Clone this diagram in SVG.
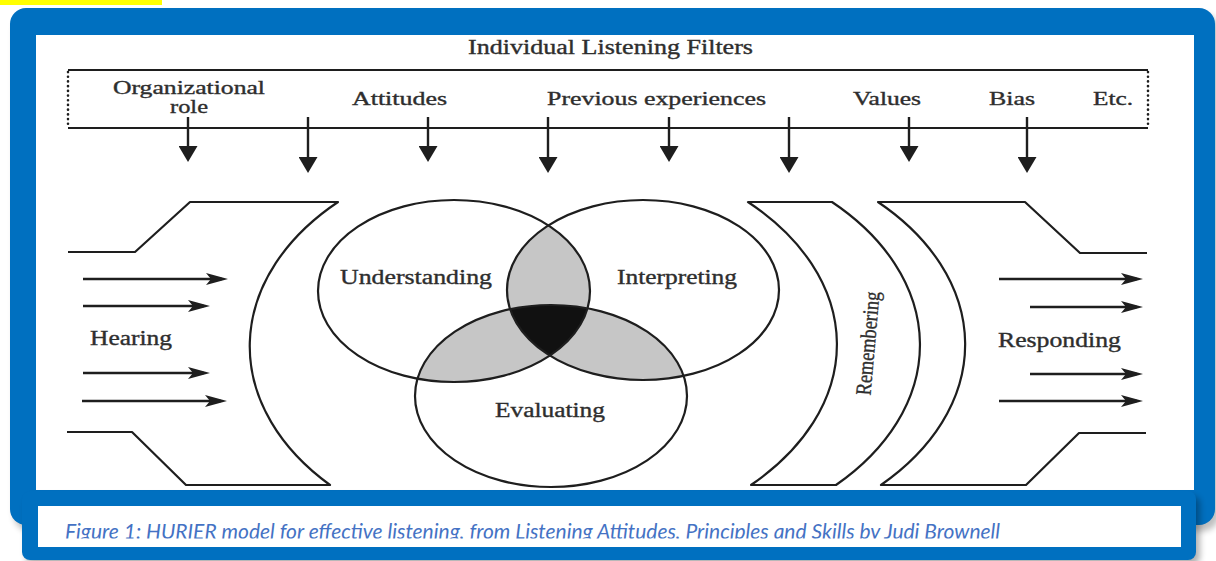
<svg xmlns="http://www.w3.org/2000/svg" width="1216" height="561" viewBox="0 0 1216 561">
<defs>
<style>
.ln{fill:none;stroke:#1e1e1e;stroke-width:2.2;stroke-linejoin:round}
.ar{fill:none;stroke:#1e1e1e;stroke-width:2.4}
.dot{fill:none;stroke:#1e1e1e;stroke-width:2.6;stroke-linecap:round;stroke-dasharray:0.1 4.6}
.lb{font-family:"Liberation Serif","Times New Roman",serif;fill:#2e2e2e;stroke:#2e2e2e;stroke-width:0.35}
.sm{font-size:18px}
.md{font-size:20px}
.cap{font-family:Lato,"Liberation Sans",sans-serif;font-style:italic;font-size:21px;fill:#4472c4}
</style>
<marker id="hv" markerUnits="userSpaceOnUse" viewBox="0 0 16 19" markerWidth="16" markerHeight="19" refX="10" refY="9.5" orient="auto">
<path d="M0,0 L16,9.5 L0,19 Z" fill="#1e1e1e"/>
</marker>
<marker id="hh" markerUnits="userSpaceOnUse" viewBox="0 0 22 12" markerWidth="22" markerHeight="12" refX="16" refY="6" orient="auto">
<path d="M0,0 L22,6 L0,12 L5,6 Z" fill="#1e1e1e"/>
</marker>
<clipPath id="cU"><ellipse cx="454" cy="291" rx="136" ry="91"/></clipPath>
<clipPath id="cI"><ellipse cx="643" cy="290" rx="136" ry="90"/></clipPath>
<clipPath id="cE"><ellipse cx="551" cy="396" rx="136" ry="91"/></clipPath>
<clipPath id="cCap"><rect x="38" y="506" width="1143" height="32.5"/></clipPath>
<filter id="sh" x="-5%" y="-20%" width="110%" height="160%"><feGaussianBlur stdDeviation="3"/></filter>
</defs>

<rect x="0" y="0" width="162" height="5" fill="#ffff00"/>

<g id="frame">
<rect x="14" y="14" width="1205" height="517" rx="16" fill="#000" opacity="0.25" filter="url(#sh)"/>
<rect x="10" y="8" width="1205" height="517" rx="16" fill="#0070c0"/>
<rect x="36" y="35" width="1158" height="455" fill="#ffffff"/>
</g>

<g id="filters">
<line class="ln" x1="68" y1="70" x2="1148" y2="70"/>
<line class="ln" x1="68" y1="128" x2="1148" y2="128"/>
<line class="dot" x1="68" y1="72" x2="68" y2="127"/>
<line class="dot" x1="1148" y1="72" x2="1148" y2="127"/>
<text class="lb md" x="468" y="54" textLength="285" lengthAdjust="spacingAndGlyphs">Individual Listening Filters</text>
<text class="lb sm" x="113" y="94" textLength="152" lengthAdjust="spacingAndGlyphs">Organizational</text>
<text class="lb sm" x="170" y="113" textLength="38" lengthAdjust="spacingAndGlyphs">role</text>
<text class="lb sm" x="352" y="105" textLength="95" lengthAdjust="spacingAndGlyphs">Attitudes</text>
<text class="lb sm" x="547" y="105" textLength="219" lengthAdjust="spacingAndGlyphs">Previous experiences</text>
<text class="lb sm" x="853" y="105" textLength="68" lengthAdjust="spacingAndGlyphs">Values</text>
<text class="lb sm" x="989" y="105" textLength="46" lengthAdjust="spacingAndGlyphs">Bias</text>
<text class="lb sm" x="1093" y="105" textLength="40" lengthAdjust="spacingAndGlyphs">Etc.</text>
</g>

<g id="hearing">
<path class="ln" d="M68,252 L135,252 L190,202 L338,202 A287,200 0 0 0 330,485 L186,485 L132,432 L67,432"/>
<text class="lb md" x="90" y="345" textLength="82" lengthAdjust="spacingAndGlyphs">Hearing</text>
</g>

<g id="venn-shading">
<ellipse cx="454" cy="291" rx="136" ry="91" fill="#c6c6c6" clip-path="url(#cI)"/>
<ellipse cx="454" cy="291" rx="136" ry="91" fill="#c6c6c6" clip-path="url(#cE)"/>
<ellipse cx="643" cy="290" rx="136" ry="90" fill="#c6c6c6" clip-path="url(#cE)"/>
<g clip-path="url(#cI)"><ellipse cx="454" cy="291" rx="136" ry="91" fill="#111111" clip-path="url(#cE)"/></g>
</g>

<g id="understanding">
<ellipse class="ln" cx="454" cy="291" rx="136" ry="91"/>
<text class="lb md" x="340" y="284" textLength="152" lengthAdjust="spacingAndGlyphs">Understanding</text>
</g>

<g id="interpreting">
<ellipse class="ln" cx="643" cy="290" rx="136" ry="90"/>
<text class="lb md" x="617" y="284" textLength="120" lengthAdjust="spacingAndGlyphs">Interpreting</text>
</g>

<g id="evaluating">
<ellipse class="ln" cx="551" cy="396" rx="136" ry="91"/>
<text class="lb md" x="495" y="417" textLength="110" lengthAdjust="spacingAndGlyphs">Evaluating</text>
</g>

<g id="remembering">
<path class="ln" d="M748,202 L832,202 A293,200 0 0 1 836,485 L751,485 A298,200 0 0 0 748,202 Z"/>
<text class="lb" font-size="22" transform="translate(875,344) rotate(-85)" x="-52" y="0" textLength="104" lengthAdjust="spacingAndGlyphs">Remembering</text>
</g>

<g id="responding">
<path class="ln" d="M1147,253 L1080,253 L1025,202 L878,202 A292,200 0 0 1 881,485 L1026,485 L1079,433 L1146,433"/>
<text class="lb md" x="998" y="347" textLength="123" lengthAdjust="spacingAndGlyphs">Responding</text>
</g>

<g id="connectors">
<line class="ar" x1="188" y1="117" x2="188" y2="156" marker-end="url(#hv)"/>
<line class="ar" x1="308" y1="117" x2="308" y2="167" marker-end="url(#hv)"/>
<line class="ar" x1="428" y1="117" x2="428" y2="156" marker-end="url(#hv)"/>
<line class="ar" x1="548" y1="117" x2="548" y2="167" marker-end="url(#hv)"/>
<line class="ar" x1="669" y1="117" x2="669" y2="156" marker-end="url(#hv)"/>
<line class="ar" x1="789" y1="117" x2="789" y2="167" marker-end="url(#hv)"/>
<line class="ar" x1="909" y1="117" x2="909" y2="156" marker-end="url(#hv)"/>
<line class="ar" x1="1027" y1="117" x2="1027" y2="167" marker-end="url(#hv)"/>
<line class="ar" x1="83" y1="279" x2="222" y2="279" marker-end="url(#hh)"/>
<line class="ar" x1="83" y1="306" x2="204" y2="306" marker-end="url(#hh)"/>
<line class="ar" x1="83" y1="373" x2="204" y2="373" marker-end="url(#hh)"/>
<line class="ar" x1="82" y1="401" x2="221" y2="401" marker-end="url(#hh)"/>
<line class="ar" x1="999" y1="279" x2="1137" y2="279" marker-end="url(#hh)"/>
<line class="ar" x1="1030" y1="307" x2="1137" y2="307" marker-end="url(#hh)"/>
<line class="ar" x1="1030" y1="374" x2="1137" y2="374" marker-end="url(#hh)"/>
<line class="ar" x1="999" y1="401" x2="1137" y2="401" marker-end="url(#hh)"/>
</g>

<g id="caption">
<rect x="26" y="496" width="1174" height="69" rx="8" fill="#000" opacity="0.3" filter="url(#sh)"/>
<rect x="22" y="491" width="1174" height="69" rx="8" fill="#0070c0"/>
<rect x="38" y="506" width="1143" height="41" fill="#ffffff"/>
<g clip-path="url(#cCap)">
<text class="cap" x="65" y="538.5" textLength="935" lengthAdjust="spacingAndGlyphs">Figure 1: HURIER model for effective listening, from  Listening Attitudes, Principles and Skills by Judi Brownell</text>
</g>
</g>
</svg>
